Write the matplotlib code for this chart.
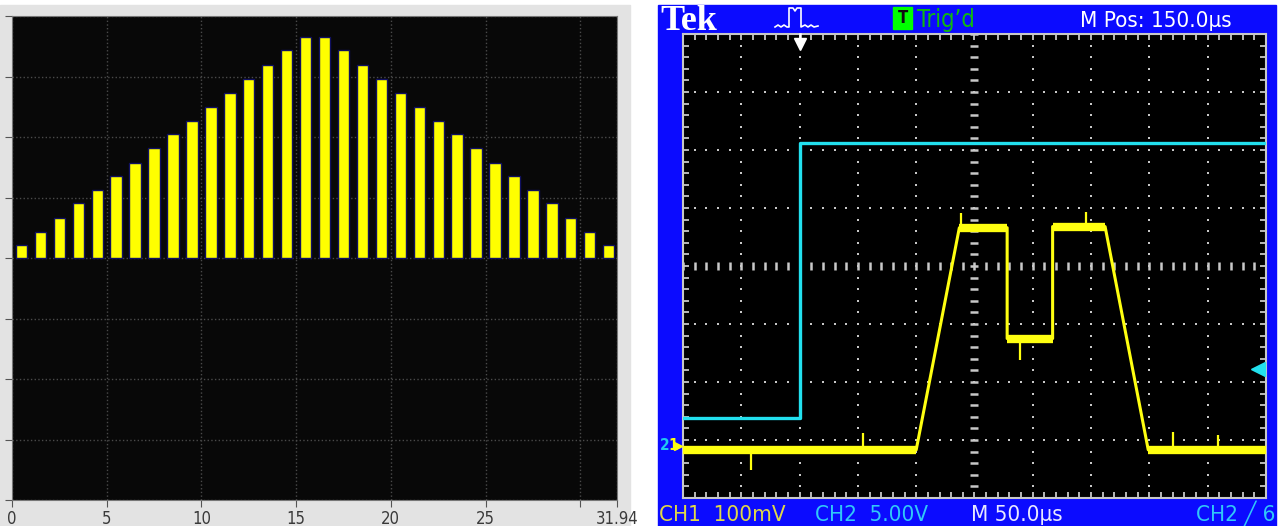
import numpy as np
import matplotlib
matplotlib.use("Agg")
import matplotlib.pyplot as plt
from matplotlib.patches import Rectangle
from matplotlib.lines import Line2D

# ---- left panel: bar values (32 bars, symmetric triangle)
bar_pos = [i + 0.5 for i in range(32)]
bar_up = [0.052, 0.107, 0.167, 0.226, 0.281, 0.339, 0.394, 0.453,
          0.512, 0.567, 0.625, 0.681, 0.741, 0.799, 0.860, 0.914]
bar_vals = bar_up + bar_up[::-1]
x_ticks = [0, 5, 10, 15, 20, 25, 30, 31.94]
x_labels = ["0", "5", "10", "15", "20", "25", "", "31.94"]

# ---- right panel: scope traces (time in us, amplitude in divisions)
ch2_t = [-100, 0, 0, 400]
ch2_div = [-2.62, -2.62, 2.12, 2.12]
ch1_t = [-100, 100, 137, 178, 178, 217, 217, 262, 299, 400]
ch1_div = [-3.17, -3.17, 0.66, 0.66, -1.25, -1.25, 0.68, 0.68, -3.17, -3.17]
spike_t = [-42, 54, 138, 189, 246, 320, 359]
spike_base = [-3.17, -3.17, 0.66, -1.25, 0.68, -3.17, -3.17]
spike_tip = [-3.52, -2.88, 0.91, -1.62, 0.93, -2.86, -2.92]

W, H = 1283, 526
fig = plt.figure(figsize=(W / 100, H / 100), dpi=100)
fig.patch.set_facecolor("white")


def box(x, y, w, h):
    # pixel box (top-left origin) -> figure fraction rect
    return [x / W, 1 - (y + h) / H, w / W, h / H]


def P(x, y):
    return x / W, 1 - y / H


narrow = dict(family="DejaVu Sans", stretch="condensed")

# grey panel behind the bar chart
fig.add_artist(Rectangle((0, 0), 630 / W, (H - 5) / H, transform=fig.transFigure,
                         color="#e3e3e3", zorder=0))

ax1 = fig.add_axes(box(12, 16, 605, 484))
ax1.set_facecolor("#080808")
ax1.bar(bar_pos, bar_vals, width=0.6, color="#ffff00", edgecolor="#101060",
        linewidth=1.0, zorder=3)
ax1.set_xlim(0, 31.94)
ax1.set_ylim(-1, 1)
ax1.set_yticks(np.arange(-1, 1.01, 0.25))
ax1.set_yticklabels([])
ax1.set_xticks(x_ticks)
ax1.set_xticklabels(x_labels, fontsize=12, color="#3a3a3a", **narrow)
ax1.tick_params(direction="out", length=5, color="#555555", pad=2)
ax1.grid(True, color="#4a4a4a", linestyle=":", linewidth=1.0, zorder=1)
for s in ax1.spines.values():
    s.set_color("#777777")
    s.set_linewidth(0.8)

# ---- oscilloscope frame
fig.add_artist(Rectangle((658 / W, 0), (1276 - 658) / W, (H - 5) / H,
                         transform=fig.transFigure, color="#0b0bff", zorder=0))

ax2 = fig.add_axes(box(683, 34, 583, 464))
ax2.set_facecolor("black")
ax2.set_xlim(-100, 400)
ax2.set_ylim(-4, 4)
gcol = "#c8c8c8"

# dotted graticule
for xv in np.arange(-50, 400, 50):
    if xv == 150:
        continue
    ys = np.arange(-4, 4.01, 0.2)
    ax2.plot(np.full_like(ys, xv), ys, ls="none", marker="s", ms=1.9,
             color=gcol, mew=0, zorder=1)
for yv in np.arange(-3, 4, 1):
    if yv == 0:
        continue
    xs = np.arange(-100, 400.1, 10)
    ax2.plot(xs, np.full_like(xs, yv), ls="none", marker="s", ms=1.9,
             color=gcol, mew=0, zorder=1)
# centre cross with fine ticks
ys = np.arange(-4, 4.01, 0.2)
ax2.plot(np.full_like(ys, 150), ys, ls="none", marker="_", ms=6, mew=1.8,
         color=gcol, zorder=1)
xs = np.arange(-100, 400.1, 10)
ax2.plot(xs, np.zeros_like(xs), ls="none", marker="|", ms=6, mew=1.8,
         color=gcol, zorder=1)

ax2.set_xticks(np.arange(-100, 401, 50))
ax2.set_xticks(np.arange(-100, 401, 10), minor=True)
ax2.set_yticks(np.arange(-4, 4.01, 1))
ax2.set_yticks(np.arange(-4, 4.01, 0.2), minor=True)
ax2.set_xticklabels([])
ax2.set_yticklabels([])
ax2.tick_params(which="both", direction="in", top=True, right=True,
                length=4, width=1.3, color=gcol)
for s in ax2.spines.values():
    s.set_color(gcol)
    s.set_linewidth(1.5)

# traces
ax2.plot(ch2_t, ch2_div, color="#22e0ee", lw=2.4, zorder=4)
ax2.plot(ch1_t, ch1_div, color="#ffff10", lw=2.2, zorder=5)
for i in range(len(ch1_t) - 1):
    if ch1_div[i] == ch1_div[i + 1] and ch1_t[i] != ch1_t[i + 1]:
        ax2.plot(ch1_t[i:i + 2], ch1_div[i:i + 2], color="#ffff10", lw=6,
                 solid_capstyle="butt", zorder=5)
ax2.vlines(spike_t, spike_base, spike_tip, color="#ffff10", lw=1.6, zorder=5)

# markers: trigger position, trigger level, channel grounds
ax2.plot(0, 3.82, marker="v", ms=9, color="white", clip_on=False, zorder=6)
ax2.plot([0, 0], [3.82, 4.0], color="white", lw=1.8, clip_on=False, zorder=6)
ax2.plot(393, -1.78, marker="<", ms=10, color="#22e0ee", clip_on=False, zorder=6)
fig.text(*P(660, 446), "2", color="#20c8f0", fontsize=11, va="center",
         fontweight="bold", **narrow)
fig.text(*P(668, 446), "1", color="#ffff10", fontsize=11, va="center",
         fontweight="bold", **narrow)
fig.add_artist(Line2D([678 / W], [1 - 446 / H], marker=">", ms=6,
                      color="#ffff10", transform=fig.transFigure))

# header
fig.text(*P(660, 30), "Tek", color="white", fontsize=26, fontweight="bold",
         family=["Liberation Serif", "DejaVu Serif"], va="baseline")
icon_x = [775, 778, 781, 784, 787, 789, 789, 793, 795, 797, 801, 801,
          805, 808, 811, 814, 818]
icon_y = [27, 25, 27, 25, 27, 27, 8, 8, 11, 8, 8, 27, 25, 27, 25, 27, 26]
fig.add_artist(Line2D([x / W for x in icon_x], [1 - y / H for y in icon_y],
                      color="white", lw=1.2, transform=fig.transFigure))
fig.add_artist(Rectangle(P(893, 29), 19 / W, 22 / H, transform=fig.transFigure,
                         color="#00ff00", zorder=2))
fig.text(*P(902.5, 18), "T", color="#101010", fontsize=12, ha="center",
         va="center", fontweight="bold", zorder=3, **narrow)
fig.text(*P(917, 27), "Trig\u2019d", color="#10b810", fontsize=17,
         va="baseline", **narrow)
fig.text(*P(1080, 27), "M Pos: 150.0\u00b5s", color="white", fontsize=16,
         va="baseline", **narrow)

# footer
fig.text(*P(659, 521), "CH1  100mV", color="#e0d848", fontsize=16,
         va="baseline", **narrow)
fig.text(*P(815, 521), "CH2  5.00V", color="#30c8f8", fontsize=16,
         va="baseline", **narrow)
fig.text(*P(971, 521), "M 50.0\u00b5s", color="#e8e8ff", fontsize=16,
         va="baseline", **narrow)
fig.text(*P(1196, 521), "CH2 \u2571 6", color="#30c8f8", fontsize=16,
         va="baseline", **narrow)

fig.savefig("out.png", dpi=100, facecolor=fig.get_facecolor())
